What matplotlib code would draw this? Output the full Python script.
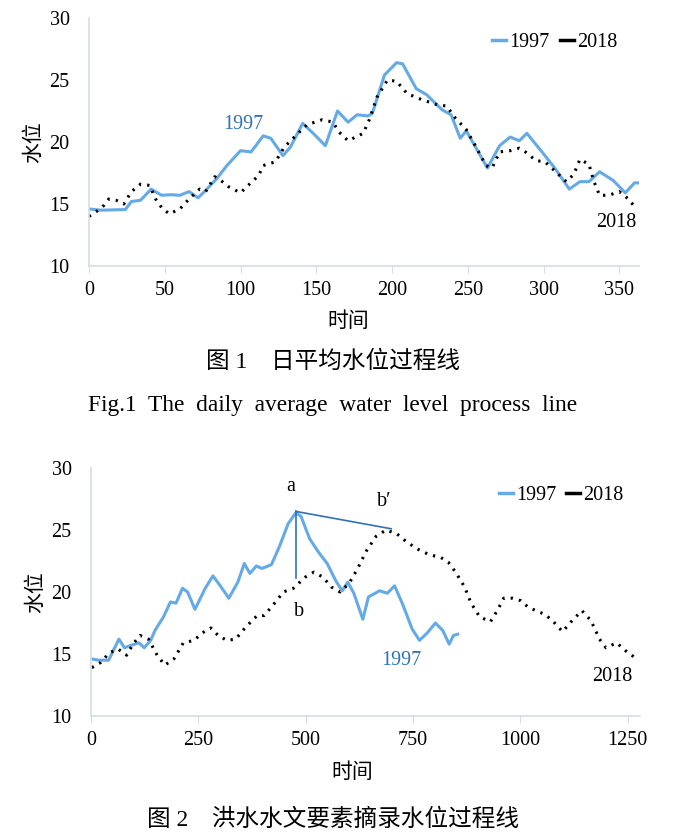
import matplotlib
matplotlib.use("Agg")
import matplotlib.pyplot as plt
from matplotlib.lines import Line2D

plt.rcParams['font.family'] = ['Liberation Serif', 'Noto Sans CJK SC']
plt.rcParams['font.size'] = 14

# Fig.1 daily average water level (day, level)
day_1997 = [0, 8, 24, 28, 34, 41, 48, 54, 60, 66, 72, 77, 84, 91, 100, 107, 115, 120,
            128, 133, 141, 148, 156, 164, 171, 177, 184, 187, 195, 203, 207, 216, 223,
            233, 239, 245, 249, 263, 271, 278, 284, 289, 299, 308, 317, 324, 330, 337,
            346, 354, 360, 363]
lvl_1997 = [14.6, 14.5, 14.55, 15.2, 15.3, 16.2, 15.7, 15.75, 15.7, 16.0, 15.5, 16.1,
            17.0, 18.1, 19.3, 19.2, 20.5, 20.3, 18.9, 19.6, 21.5, 20.7, 19.7, 22.5, 21.6,
            22.2, 22.1, 22.3, 25.4, 26.4, 26.3, 24.3, 23.8, 22.6, 22.2, 20.3, 20.9, 17.9,
            19.7, 20.4, 20.1, 20.7, 19.2, 17.8, 16.2, 16.8, 16.8, 17.6, 16.9, 15.9,
            16.7, 16.7]

day_2018 = [0, 5, 10, 13, 18, 23, 28, 34, 40, 44, 48, 53, 60, 66, 73, 77, 83, 87, 92,
            100, 105, 112, 115, 123, 129, 138, 144, 154, 161, 165, 171, 181, 185, 190,
            197, 203, 210, 220, 230, 236, 242, 249, 255, 262, 266, 271, 278, 284, 288,
            295, 301, 308, 315, 320, 324, 330, 333, 337, 343, 350, 356, 360]
lvl_2018 = [14.0, 14.4, 14.9, 15.4, 15.3, 15.0, 16.0, 16.6, 16.5, 15.4, 14.7, 14.2,
            14.6, 15.4, 16.2, 16.0, 17.2, 16.9, 16.4, 15.9, 16.5, 17.3, 18.1, 18.4, 19.6,
            20.7, 21.4, 21.8, 21.6, 20.8, 20.1, 20.7, 21.8, 23.6, 25.0, 24.9, 23.9, 23.4,
            23.0, 22.9, 21.9, 21.0, 19.7, 18.1, 17.9, 19.2, 19.3, 19.5, 19.2, 18.5, 18.4,
            17.6, 16.8, 17.4, 18.6, 18.2, 16.9, 15.7, 15.7, 16.0, 15.4, 14.8]

# Fig.2 flood hydrological element extraction (record, level)
rec_1997 = [2, 17, 41, 51, 65, 78, 93, 112, 124, 139, 149, 169, 185, 198, 213, 225, 242,
            266, 284, 301, 321, 342, 357, 370, 385, 398, 420, 438, 459, 477, 489, 509,
            530, 550, 570, 585, 598, 612, 633, 646, 672, 690, 707, 727, 748, 765, 783,
            802, 819, 834, 844, 854]
wl_1997 = [14.6, 14.5, 14.5, 15.2, 16.2, 15.5, 15.7, 15.9, 15.5, 16.1, 16.9, 18.0, 19.2,
           19.1, 20.3, 20.0, 18.6, 20.3, 21.3, 20.5, 19.5, 20.8, 22.3, 21.5, 22.1, 21.9,
           22.2, 23.6, 25.5, 26.4, 26.1, 24.3, 23.2, 22.3, 20.9, 20.1, 20.8, 19.9, 17.8,
           19.6, 20.1, 19.9, 20.5, 18.9, 17.0, 16.1, 16.7, 17.5, 16.9, 15.8, 16.5, 16.6]

rec_2018 = [2, 22, 43, 63, 83, 98, 114, 134, 154, 172, 193, 215, 240, 259, 279, 296, 316,
            337, 361, 387, 403, 423, 448, 471, 499, 519, 540, 560, 580, 601, 621, 641,
            664, 687, 712, 733, 758, 788, 814, 832, 849, 870, 885, 905, 930, 946, 961,
            981, 1001, 1017, 1042, 1057, 1077, 1098, 1118, 1143, 1164, 1184, 1199, 1224,
            1250, 1272]
wl_2018 = [13.9, 14.3, 15.1, 15.4, 14.9, 15.8, 16.5, 16.2, 14.9, 14.1, 14.6, 15.9, 16.1,
           16.7, 17.1, 16.5, 16.1, 16.2, 17.2, 18.1, 18.1, 18.9, 20.0, 20.3, 21.2, 21.6,
           21.2, 20.4, 20.0, 20.7, 21.9, 23.3, 24.5, 25.0, 24.7, 24.1, 23.5, 23.0, 22.8,
           22.4, 21.6, 20.4, 19.1, 18.0, 17.6, 18.5, 19.5, 19.5, 19.3, 18.8, 18.4, 18.2,
           17.6, 16.8, 17.6, 18.5, 17.7, 16.2, 15.5, 15.9, 15.1, 14.6]

yticks = [10, 15, 20, 25, 30]
xticks1 = [0, 50, 100, 150, 200, 250, 300, 350]
xticks2 = [0, 250, 500, 750, 1000, 1250]

blue = '#64aae6'
dark_blue = '#2f72b8'
spine_c = '#d6dbe6'
dots = (0, (0.75, 2.0))

fig = plt.figure(figsize=(6.81, 8.38), dpi=100)
ax1 = fig.add_axes([0.1307, 0.6826, 0.8076, 0.2959])
ax2 = fig.add_axes([0.1336, 0.1456, 0.806, 0.2959])


def style(ax, xticks, xmax):
    ax.set_xlim(0, xmax)
    ax.set_ylim(10, 30)
    ax.set_yticks(yticks)
    ax.set_xticks(xticks)
    for s in ['top', 'right']:
        ax.spines[s].set_visible(False)
    for s in ['left', 'bottom']:
        ax.spines[s].set_color(spine_c)
        ax.spines[s].set_linewidth(1.2)
    ax.tick_params(axis='y', length=0, pad=14, labelsize=14.5)
    ax.tick_params(axis='x', length=5, color=spine_c, pad=6, labelsize=14.5)


style(ax1, xticks1, 363)
ax1.plot(day_1997, lvl_1997, color=blue, lw=2.2, solid_joinstyle='round')
ax1.plot(day_2018, lvl_2018, color='black', lw=2.2, linestyle=dots)
ax1.text(102, 21.4, '1997', color=dark_blue, ha='center', va='center', fontsize=14.5)
ax1.text(348, 13.5, '2018', color='black', ha='center', va='center', fontsize=14.5)
ax1.set_ylabel('水位', fontsize=15, labelpad=4)

style(ax2, xticks2, 1278)
ax2.plot(rec_1997, wl_1997, color=blue, lw=2.2, solid_joinstyle='round')
ax2.plot(rec_2018, wl_2018, color='black', lw=2.2, linestyle=dots)
ax2.plot([477, 477], [26.5, 21.1], color=dark_blue, lw=1.2)
ax2.plot([477, 699], [26.5, 25.1], color=dark_blue, lw=1.2)
ax2.text(466, 28.5, 'a', ha='center', va='center', fontsize=14.5)
ax2.text(484, 18.4, 'b', ha='center', va='center', fontsize=14.5)
ax2.text(682, 27.3, 'b\u2032', ha='center', va='center', fontsize=14.5)
ax2.text(722, 14.5, '1997', color=dark_blue, ha='center', va='center', fontsize=14.5)
ax2.text(1214, 13.2, '2018', color='black', ha='center', va='center', fontsize=14.5)
ax2.set_ylabel('水位', fontsize=15, labelpad=4)

handles = [Line2D([], [], color=blue, lw=2.5), Line2D([], [], color='black', lw=2.5)]
for ax, anchor in [(ax1, (0.975, 0.9)), (ax2, (0.985, 0.89))]:
    ax.legend(handles, ['1997', '2018'], loc='center right', bbox_to_anchor=anchor,
              ncol=2, frameon=False, handlelength=0.7, handletextpad=0.15,
              columnspacing=0.5, fontsize=14.5, borderaxespad=0)

W, H = 681, 838
fig.text(348 / W, 1 - 322 / H, '时间', ha='center', va='center', fontsize=15)
fig.text(333 / W, 1 - 362 / H, '图 1\u3000日平均水位过程线', ha='center', va='center', fontsize=17)
fig.text(333 / W, 1 - 406 / H, 'Fig.1  The  daily  average  water  level  process  line',
         ha='center', va='center', fontsize=16.8)
fig.text(352 / W, 1 - 773 / H, '时间', ha='center', va='center', fontsize=15)
fig.text(333 / W, 1 - 820 / H, '图 2\u3000洪水水文要素摘录水位过程线', ha='center', va='center', fontsize=17)

fig.savefig('out.png', dpi=100)
